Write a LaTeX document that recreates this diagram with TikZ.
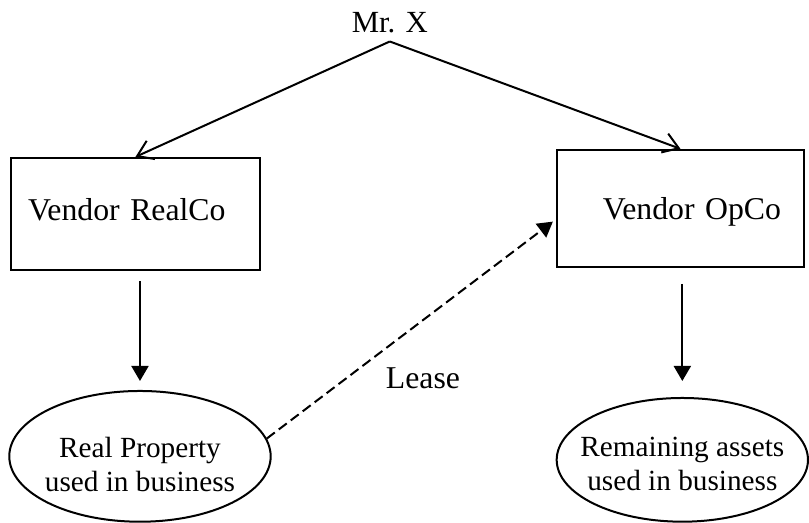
\documentclass[tikz,border=0pt]{standalone}
\usepackage{fontspec}
\setmainfont{Liberation Serif}
\usetikzlibrary{arrows.meta,shapes.geometric}

\begin{document}
\begin{tikzpicture}[font=\fontsize{12.7}{13.6}\selectfont,
  vendor/.style={draw,rectangle,line width=0.9pt,text depth=0pt},
  asset/.style={draw,ellipse,line width=0.8pt,inner sep=-6pt,align=center,font=\fontsize{11.7}{13.6}\selectfont},
  owns/.style={line width=0.8pt,-{Straight Barb[length=6pt,width=8pt]}},
  drop/.style={line width=0.8pt,-{Triangle[length=6pt,width=6.8pt]}}]
\useasboundingbox (0,0) rectangle (11.374,7.353);
\node[anchor=base,font=\fontsize{12.3}{13.6}\selectfont] (mrx) at (5.48,6.90) {Mr. X};
\node[vendor,inner xsep=6.8pt,text width=86pt,align=left,text height=4.8pt,minimum height=1.575cm] (realco) at (1.905,4.344) {Vendor RealCo};
\node[vendor,inner xsep=9.2pt,text width=80.4pt,align=right,minimum height=1.645cm] (opco) at (9.567,4.422) {Vendor OpCo};
\node[asset,text height=28.3pt,minimum width=3.675cm,minimum height=1.838cm] (realprop) at (1.968,0.937) {Real Property\\used in business};
\node[asset,text height=24.7pt,minimum width=3.533cm,minimum height=1.739cm] (remain) at (9.593,0.888) {Remaining assets\\used in business};
\node[anchor=base] (lease) at (5.947,1.894) {Lease};
\draw[owns] (mrx.south) -- (realco.north);
\draw[owns] (mrx.south) -- (opco.north);
\draw[drop,shorten <=4pt,shorten >=3.6pt] (realprop.north |- realco.south) -- (realprop.north);
\draw[drop,shorten <=6.3pt,shorten >=6.4pt] (remain.north |- opco.south) -- (remain.north);
\draw[drop,dash pattern=on 4pt off 2pt,shorten >=1.5pt] (realprop.8) -- (opco.185);
\end{tikzpicture}
\end{document}
